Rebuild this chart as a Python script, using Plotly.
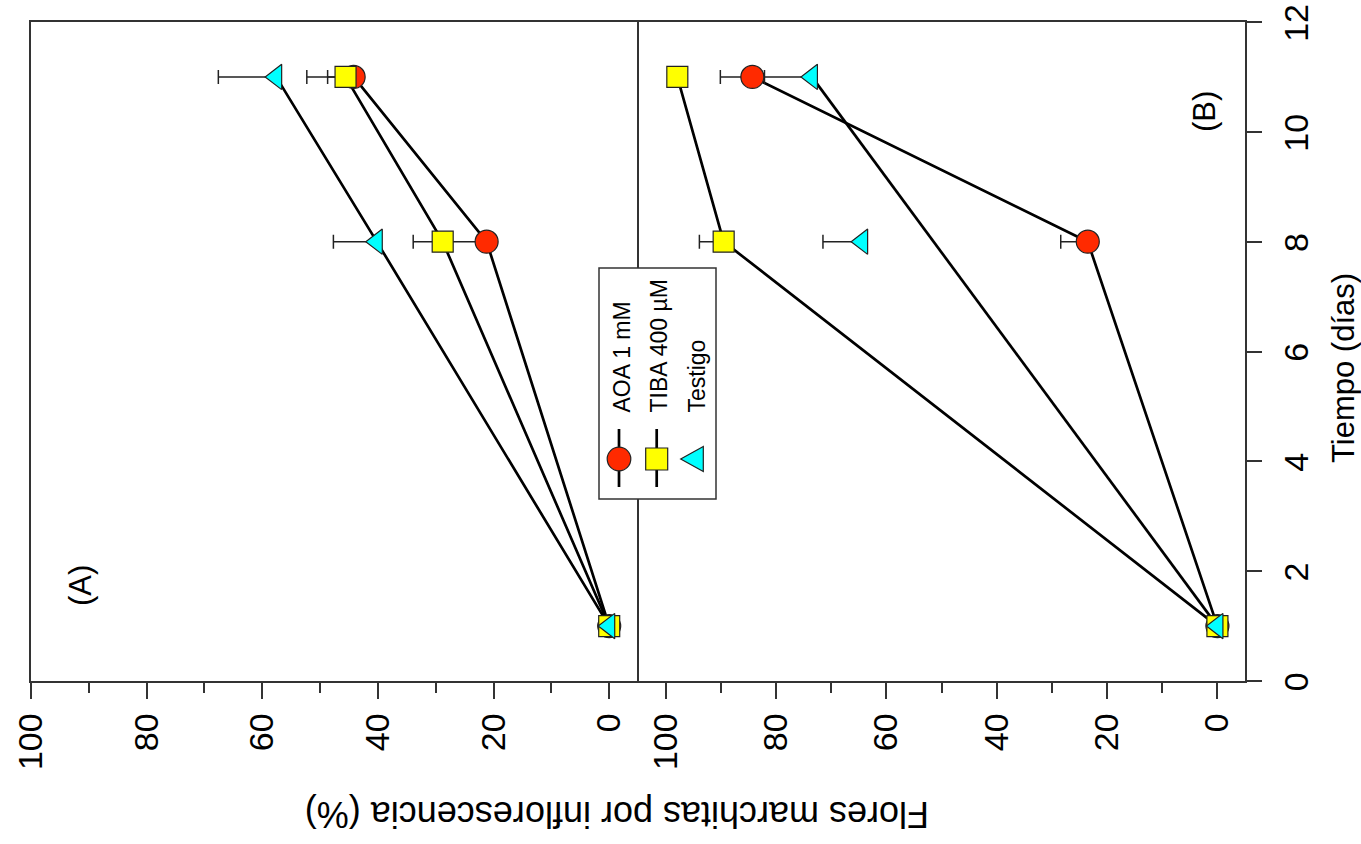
import plotly.graph_objects as go

# ---------------- data ----------------
days = [1, 8, 11]

aoa_a = [0, 21.2, 44.2]
aoa_a_err = [0, 7.0, 4.5]
tiba_a = [0, 28.8, 45.6]
tiba_a_err = [0, 5.1, 6.7]
test_a = [0, 40.2, 57.6]
test_a_err = [0, 7.5, 10.0]

aoa_b = [0, 23.5, 84.3]
aoa_b_err = [0, 4.9, 5.8]
tiba_b = [0, 89.5, 97.9]
tiba_b_err = [0, 4.4, 0.0]
test_b = [0, 64.4, 73.5]
test_b_err = [0, 7.1, 8.6]
# in panel B the control line joins only these points (day 8 left unjoined)
test_b_line_idx = [0, 2]

series_names = ["AOA 1 mM", "TIBA 400 \u00b5M", "Testigo"]
pct_ticks = [0, 20, 40, 60, 80, 100]
day_ticks = [0, 2, 4, 6, 8, 10, 12]

# ---------------- styling ----------------
W, H = 1361, 844
FONT = "Liberation Sans, Arial, Helvetica, sans-serif"
INK = "#222222"
FRAME = "#333333"
RED, YEL, CYN = "#ff2a00", "#ffff00", "#00ffff"

def px(x):
    return x / W

def py(y):
    return (H - y) / H

fig = go.Figure()

def add_panel(xref, yref, vals, errs, line_idx_list):
    colors = [RED, YEL, CYN]
    symbols = ["circle", "square", "triangle-left"]
    sizes = [23, 21, 22]
    # lines first (under every marker)
    for v, idx in zip(vals, line_idx_list):
        fig.add_trace(go.Scatter(
            x=[v[i] for i in idx], y=[days[i] for i in idx],
            mode="lines", line=dict(color="black", width=2.7),
            xaxis=xref, yaxis=yref, showlegend=False, hoverinfo="skip"))
    for v, e, c, s, sz in zip(vals, errs, colors, symbols, sizes):
        fig.add_trace(go.Scatter(
            x=v, y=days, mode="markers",
            marker=dict(symbol=s, size=sz, color=c,
                        line=dict(color=INK, width=1.2)),
            error_x=dict(type="data", symmetric=False, array=e,
                         arrayminus=[0] * len(e), color=INK,
                         thickness=1.5, width=7),
            xaxis=xref, yaxis=yref, showlegend=False))

full = list(range(len(days)))
add_panel("x", "y", [aoa_a, tiba_a, test_a], [aoa_a_err, tiba_a_err, test_a_err],
          [full, full, full])
add_panel("x2", "y2", [aoa_b, tiba_b, test_b], [aoa_b_err, tiba_b_err, test_b_err],
          [full, full, test_b_line_idx])

axis_common = dict(showgrid=False, zeroline=False, showline=True,
                   linecolor=FRAME, linewidth=1.5, automargin=False,
                   ticklabeloverflow="allow")
pct_axis = dict(axis_common, mirror=True, tickmode="array", tickvals=pct_ticks,
                ticks="outside", ticklen=16, tickwidth=1.5, tickcolor=FRAME,
                tickangle=-90, tickfont=dict(size=34, family=FONT, color="black"),
                ticklabelstandoff=1,
                minor=dict(tick0=0, dtick=10, ticks="outside", ticklen=10,
                           tickwidth=1.5, tickcolor=FRAME))

x_split = 638.7
fig.update_layout(
    width=W, height=H,
    margin=dict(l=0, r=0, t=0, b=0, pad=0, autoexpand=False),
    paper_bgcolor="white", plot_bgcolor="rgba(0,0,0,0)",
    showlegend=False, font=dict(family=FONT, color="black"),
    xaxis=dict(pct_axis, domain=[px(31), px(x_split)], range=[100, -5.1], anchor="y"),
    xaxis2=dict(pct_axis, domain=[px(x_split), px(1245)], range=[104.9, -5.0], anchor="y2"),
    yaxis=dict(axis_common, mirror=False, domain=[py(681), py(22)], range=[0, 12],
               anchor="x", ticks="", showticklabels=False),
    yaxis2=dict(axis_common, mirror=True, domain=[py(681), py(22)], range=[0, 12],
                anchor="x2", side="right", tickmode="array", tickvals=day_ticks,
                ticks="outside", ticklen=15, tickwidth=1.5, tickcolor=FRAME,
                tickangle=-90, ticklabelstandoff=5, ticklabelshift=6,
                tickfont=dict(size=34, family=FONT, color="black")),
    # pixel overlay used for the hand-built legend
    xaxis3=dict(domain=[0, 1], range=[0, W], visible=False, anchor="y3", fixedrange=True),
    yaxis3=dict(domain=[0, 1], range=[H, 0], visible=False, anchor="x3", fixedrange=True),
)

# invisible trace so the overlay axes exist
fig.add_trace(go.Scatter(x=[0], y=[0], xaxis="x3", yaxis="y3", mode="markers",
                         marker=dict(opacity=0), showlegend=False, hoverinfo="skip"))

# ---------------- legend (rotated) ----------------
shapes = []
shapes.append(dict(type="rect", xref="x3", yref="y3", x0=599, x1=716, y0=268, y1=499,
                   line=dict(color=FRAME, width=1.5), fillcolor="white", layer="above"))
leg_x = [619, 656.7, 692]
leg_y = 459
for lx in leg_x[:2]:
    shapes.append(dict(type="line", xref="x3", yref="y3", x0=lx, x1=lx, y0=429, y1=487,
                       line=dict(color="black", width=2.7), layer="above"))
r = 11.8
shapes.append(dict(type="circle", xref="x3", yref="y3", x0=leg_x[0] - r, x1=leg_x[0] + r,
                   y0=leg_y - r, y1=leg_y + r, fillcolor=RED,
                   line=dict(color=INK, width=1.2), layer="above"))
s = 11
shapes.append(dict(type="rect", xref="x3", yref="y3", x0=leg_x[1] - s, x1=leg_x[1] + s,
                   y0=leg_y - s, y1=leg_y + s, fillcolor=YEL,
                   line=dict(color=INK, width=1.2), layer="above"))
tx = leg_x[2]
shapes.append(dict(type="path", xref="x3", yref="y3",
                   path=f"M {tx-11.3},{leg_y} L {tx+11.3},{leg_y-12.5} L {tx+11.3},{leg_y+12.5} Z",
                   fillcolor=CYN, line=dict(color=INK, width=1.2), layer="above"))
fig.update_layout(shapes=shapes)

annotations = []
leg_text_x = [621, 658, 696]
for name, lx in zip(series_names, leg_text_x):
    annotations.append(dict(xref="x3", yref="y3", x=lx, y=415, text=name,
                            textangle=-90, showarrow=False, xanchor="center",
                            yanchor="bottom", font=dict(size=23, family=FONT)))
annotations += [
    dict(xref="x3", yref="y3", x=80, y=586, text="(A)", textangle=-90, showarrow=False,
         xanchor="center", yanchor="middle", font=dict(size=31, family=FONT)),
    dict(xref="x3", yref="y3", x=1204, y=112, text="(B)", textangle=-90, showarrow=False,
         xanchor="center", yanchor="middle", font=dict(size=31, family=FONT)),
    dict(xref="x3", yref="y3", x=1343, y=368, text="Tiempo (d\u00edas)", textangle=-90,
         showarrow=False, xanchor="center", yanchor="middle", font=dict(size=31, family=FONT)),
    dict(xref="x3", yref="y3", x=617, y=815, text="Flores marchitas por inflorescencia (%)",
         textangle=180, showarrow=False, xanchor="center", yanchor="middle",
         font=dict(size=36, family=FONT)),
]
fig.update_layout(annotations=annotations)

fig.write_html(
    "out.html",
    config={"displayModeBar": False},
    post_script="document.body.style.margin='0px';document.body.style.overflow='hidden';",
)
